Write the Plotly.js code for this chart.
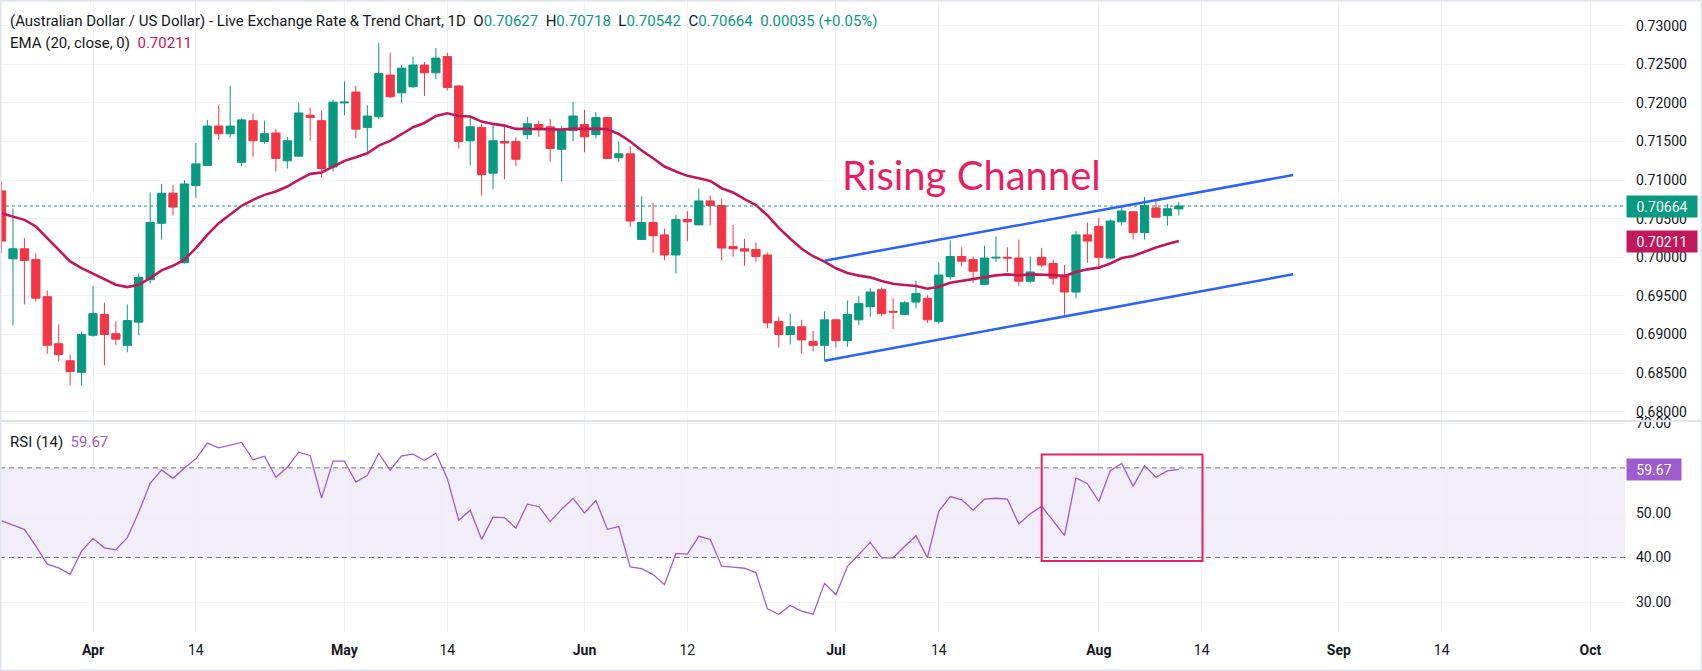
<!DOCTYPE html>
<html><head><meta charset="utf-8">
<script src="https://cdn.plot.ly/plotly-3.0.1.min.js"></script>
<style>html,body{margin:0;padding:0;background:#fff;}#chart{width:1702px;height:671px;}</style>
</head><body><div id="chart"></div>
<script>
// ---------- data ----------
const dates = [
"2026-03-20","2026-03-23","2026-03-24","2026-03-25","2026-03-26","2026-03-27","2026-03-30","2026-03-31",
"2026-04-01","2026-04-02","2026-04-03","2026-04-06","2026-04-07","2026-04-08","2026-04-09","2026-04-10","2026-04-13","2026-04-14","2026-04-15","2026-04-16","2026-04-17","2026-04-20","2026-04-21","2026-04-22","2026-04-23","2026-04-24","2026-04-27","2026-04-28","2026-04-29","2026-04-30",
"2026-05-01","2026-05-04","2026-05-05","2026-05-06","2026-05-07","2026-05-08","2026-05-11","2026-05-12","2026-05-13","2026-05-14","2026-05-15","2026-05-18","2026-05-19","2026-05-20","2026-05-21","2026-05-22","2026-05-25","2026-05-26","2026-05-27","2026-05-28","2026-05-29",
"2026-06-01","2026-06-02","2026-06-03","2026-06-04","2026-06-05","2026-06-08","2026-06-09","2026-06-10","2026-06-11","2026-06-12","2026-06-15","2026-06-16","2026-06-17","2026-06-18","2026-06-19","2026-06-22","2026-06-23","2026-06-24","2026-06-25","2026-06-26","2026-06-29","2026-06-30",
"2026-07-01","2026-07-02","2026-07-03","2026-07-06","2026-07-07","2026-07-08","2026-07-09","2026-07-10","2026-07-13","2026-07-14","2026-07-15","2026-07-16","2026-07-17","2026-07-20","2026-07-21","2026-07-22","2026-07-23","2026-07-24","2026-07-27","2026-07-28","2026-07-29","2026-07-30","2026-07-31",
"2026-08-03","2026-08-04","2026-08-05","2026-08-06","2026-08-07","2026-08-10","2026-08-11","2026-08-12"];

const opens = [
.7086,.6998,.7011,.6997,.6949,.6888,.6866,.6851,
.6899,.6926,.6901,.6886,.6916,.6971,.7044,.7083,.6993,.7093,.7119,.7170,.7160,.7123,.7177,.7150,.7161,.7125,.7131,.7184,.7177,.7117,
.7200,.7214,.7168,.7182,.7236,.7213,.7221,.7249,.7239,.7260,.7222,.7151,.7168,.7109,.7150,.7150,.7159,.7172,.7169,.7140,.7164,
.7172,.7159,.7181,.7129,.7134,.7023,.7045,.7029,.7003,.7049,.7042,.7073,.7067,.7014,.7011,.7010,.7003,.6917,.6900,.6910,.6891,.6886,
.6919,.6892,.6919,.6936,.6958,.6930,.6926,.6942,.6947,.6917,.6975,.7001,.6997,.6965,.6999,.7000,.6999,.6969,.7000,.6992,.6977,.6955,.7029,
.7040,.6999,.7046,.7059,.7032,.7064,.7054,.70627];
const highs = [
.7098,.7063,.7025,.7005,.6957,.6913,.6874,.6904,
.6963,.6941,.6917,.6939,.6979,.7084,.7095,.7094,.7100,.7148,.7178,.7197,.7222,.7180,.7186,.7177,.7166,.7156,.7200,.7194,.7190,.7204,
.7228,.7222,.7197,.7278,.7265,.7249,.7260,.7253,.7271,.7265,.7223,.7184,.7173,.7174,.7169,.7155,.7182,.7177,.7179,.7170,.7201,
.7191,.7188,.7182,.7150,.7144,.7079,.7071,.7037,.7055,.7060,.7089,.7080,.7076,.7042,.7024,.7019,.7006,.6923,.6927,.6919,.6905,.6930,
.6920,.6944,.6950,.6960,.6961,.6947,.6943,.6970,.6951,.6993,.7022,.7013,.7001,.7015,.7027,.7013,.7023,.7001,.7012,.6997,.6990,.7034,.7045,
.7051,.7049,.7067,.7060,.7078,.7075,.7069,.70718];
const lows = [
.7006,.6912,.6939,.6943,.6875,.6865,.6834,.6834,
.6897,.6860,.6886,.6877,.6899,.6966,.7023,.7054,.6992,.7077,.7119,.7152,.7155,.7118,.7130,.7147,.7111,.7115,.7130,.7151,.7103,.7111,
.7184,.7154,.7136,.7179,.7206,.7200,.7219,.7209,.7231,.7216,.7141,.7119,.7080,.7088,.7101,.7118,.7153,.7156,.7124,.7098,.7150,
.7136,.7154,.7128,.7123,.7039,.7023,.7006,.6996,.6979,.7021,.7042,.7042,.6996,.7001,.6989,.6994,.6908,.6883,.6887,.6875,.6878,.6866,
.6883,.6884,.6912,.6923,.6923,.6907,.6926,.6934,.6915,.6914,.6971,.6988,.6967,.6965,.6994,.6981,.6963,.6967,.6987,.6964,.6924,.6947,.6993,
.6988,.6997,.7041,.7023,.7023,.7052,.7041,.70542];
const closes = [
.7021,.7011,.6996,.6947,.6886,.6874,.6852,.6900,
.6927,.6900,.6894,.6918,.6974,.7045,.7083,.7065,.7095,.7121,.7170,.7160,.7170,.7178,.7151,.7160,.7128,.7151,.7187,.7181,.7115,.7201,
.7201,.7166,.7183,.7238,.7208,.7245,.7249,.7239,.7258,.7220,.7150,.7169,.7107,.7151,.7148,.7127,.7173,.7166,.7141,.7164,.7183,
.7156,.7181,.7128,.7134,.7047,.7045,.7028,.7003,.7049,.7046,.7073,.7067,.7012,.7011,.7008,.7001,.6915,.6900,.6910,.6893,.6886,.6919,
.6892,.6926,.6940,.6955,.6927,.6929,.6941,.6953,.6919,.6977,.7001,.6995,.6982,.6999,.7000,.6999,.6969,.6981,.6990,.6973,.6955,.7029,.7021,
.7000,.7047,.7060,.7032,.7067,.7052,.70629,.70664];
const ema20 = [
.70572,.70528,.70485,.70399,.70248,.70097,.69946,.69860,
.69787,.69709,.69644,.69614,.69644,.69730,.69830,.69890,.69968,.70119,.70291,.70442,.70559,.70667,.70744,.70809,.70852,.70917,.71003,.71081,.71098,.71176,
.71249,.71296,.71348,.71447,.71508,.71594,.71685,.71740,.71831,.71866,.71831,.71823,.71758,.71728,.71706,.71663,.71663,.71667,.71659,.71654,.71667,
.71663,.71667,.71659,.71598,.71500,.71383,.71283,.71176,.71111,.71055,.71025,.70990,.70895,.70840,.70753,.70677,.70545,.70380,.70240,.70110,.70014,.69945,
.69858,.69798,.69763,.69740,.69693,.69658,.69641,.69628,.69593,.69619,.69671,.69693,.69714,.69745,.69766,.69779,.69766,.69779,.69779,.69771,.69758,.69810,.69844,
.69866,.69920,.69990,.70017,.70074,.70126,.70173,.70211];
const rsi14 = [
48.17,47.27,46.29,42.55,38.50,37.68,36.26,41.42,
44.27,42.17,41.72,44.42,50.11,56.55,59.55,57.68,60.00,62.02,65.54,64.49,65.09,65.69,61.80,62.62,57.90,60.15,63.52,62.77,53.26,61.50,
61.50,56.85,58.35,63.22,59.48,62.70,63.07,61.65,63.30,57.60,48.32,50.56,44.05,48.99,48.91,46.52,51.91,51.39,48.02,50.79,53.18,
49.96,52.73,46.29,46.89,37.90,37.53,36.18,33.93,40.90,40.75,44.72,44.05,38.05,37.83,37.60,36.63,28.54,27.34,29.29,28.02,27.34,34.23,
31.69,37.98,40.68,43.37,39.93,39.93,42.47,44.87,39.93,50.30,53.60,52.88,50.60,53.03,53.22,53.03,47.49,49.74,51.46,48.28,44.91,57.75,56.48,
52.51,59.40,60.97,55.88,60.52,57.90,59.33,59.67];

const tickDates  = ["2026-04-01","2026-04-14","2026-05-01","2026-05-14","2026-06-01","2026-06-12","2026-07-01","2026-07-14","2026-08-03","2026-08-14","2026-09-01","2026-09-14","2026-10-01"];
const tickLabels = ["<b>Apr</b>","14","<b>May</b>","14","<b>Jun</b>","12","<b>Jul</b>","14","<b>Aug</b>","14","<b>Sep</b>","14","<b>Oct</b>"];
const priceTicks = [0.68,0.685,0.69,0.695,0.70,0.705,0.71,0.715,0.72,0.725,0.73];
const rsiTicks = [30,40,50,60,70];
const rsiBands = [40,60];

// drawings on the chart
const channelDates = ["2026-06-30","2026-08-26"];
const channelUpper = [0.69956,0.71066];
const channelLower = [0.68661,0.69780];
const rsiBoxDates = ["2026-07-27","2026-08-14"];
const rsiBoxLevels = [39.2,63.0];
const channelLabel = {text:"Rising Channel", date:"2026-07-17", price:0.7106};

// ---------- helpers ----------
function bizIndex(s){
  const DAY=86400000, base=Date.UTC(2026,3,1);
  const p=s.split('-').map(Number), t=Date.UTC(p[0],p[1]-1,p[2]);
  let n=0;
  if(t>=base){ for(let c=base;c<t;c+=DAY){const wd=new Date(c+DAY).getUTCDay(); if(wd!==0&&wd!==6)n++;} }
  else { for(let c=base;c>t;c-=DAY){const wd=new Date(c-DAY).getUTCDay(); if(wd!==0&&wd!==6)n--;} }
  return n;
}
const xs = dates.map(bizIndex);
const N = closes.length;
const GREEN='#089981', RED='#f23645', EMA_C='#c2185b', RSI_C='#a15bd1', BLUE='#2962ff', PINK='#e91e63', TXT='#131722', GRID='#f0f2f6';
const FONT='Roboto, "Liberation Sans", sans-serif';

const PX_W=1625, PX_H=632, SPLIT=421;
const rsiDomTop=(PX_H-SPLIT)/PX_H;

const traces=[
 {type:'candlestick', x:xs, open:opens, high:highs, low:lows, close:closes, xaxis:'x', yaxis:'y',
  increasing:{line:{color:GREEN,width:1},fillcolor:GREEN},
  decreasing:{line:{color:RED,width:1},fillcolor:RED},
  whiskerwidth:0, hoverinfo:'skip', showlegend:false},
 {type:'scatter', mode:'lines', x:xs, y:ema20, xaxis:'x', yaxis:'y', line:{color:EMA_C,width:2.6}, hoverinfo:'skip', showlegend:false},
 {type:'scatter', mode:'lines', x:xs, y:rsi14, xaxis:'x2', yaxis:'y2', line:{color:RSI_C,width:1.3}, hoverinfo:'skip', showlegend:false}
];

const tickIdx = tickDates.map(bizIndex);
const xRange=[-93/11.43, (PX_W-93)/11.43];
const lastC=closes[N-1], prevC=closes[N-2], chg=lastC-prevC;
const f5=v=>v.toFixed(5);
const g=s=>`<span style="color:${GREEN}">${s}</span>`;

const shapes=[
 {type:'rect', xref:'paper', yref:'y2', x0:0, x1:1, y0:rsiBands[0], y1:rsiBands[1], fillcolor:'rgba(126,87,194,0.1)', line:{width:0}, layer:'below'},
 {type:'line', xref:'paper', yref:'y2', x0:0, x1:1, y0:rsiBands[0], y1:rsiBands[0], line:{color:'#787b86',width:1,dash:'5px,4px'}},
 {type:'line', xref:'paper', yref:'y2', x0:0, x1:1, y0:rsiBands[1], y1:rsiBands[1], line:{color:'#787b86',width:1,dash:'5px,4px'}},
 {type:'line', xref:'paper', yref:'y', x0:0, x1:1, y0:lastC, y1:lastC, line:{color:GREEN,width:1,dash:'dot'}},
 {type:'line', xref:'x', yref:'y', x0:bizIndex(channelDates[0]), x1:bizIndex(channelDates[1]), y0:channelUpper[0], y1:channelUpper[1], line:{color:BLUE,width:2.5}},
 {type:'line', xref:'x', yref:'y', x0:bizIndex(channelDates[0]), x1:bizIndex(channelDates[1]), y0:channelLower[0], y1:channelLower[1], line:{color:BLUE,width:2.5}},
 {type:'rect', xref:'x2', yref:'y2', x0:bizIndex(rsiBoxDates[0]), x1:bizIndex(rsiBoxDates[1])+0.07, y0:rsiBoxLevels[0], y1:rsiBoxLevels[1], line:{color:PINK,width:2}},
 {type:'line', xref:'paper', yref:'paper', x0:0, x1:1702/PX_W, y0:rsiDomTop, y1:rsiDomTop, line:{color:'#e0e3eb',width:2}},
 {type:'rect', xref:'paper', yref:'paper', x0:0, x1:1702/PX_W, y0:-(671-PX_H)/PX_H, y1:1, line:{color:'#e0e3eb',width:3}}
];

const annotations=[
 {xref:'paper', yref:'paper', x:8/PX_W, y:1-21/PX_H, xanchor:'left', yanchor:'middle', showarrow:false,
  font:{family:FONT,size:15,color:TXT},
  text:`(Australian Dollar / US Dollar) - Live Exchange Rate &amp; Trend Chart, 1D&nbsp;&nbsp;O${g(f5(opens[N-1]))}&nbsp;&nbsp;H${g(f5(highs[N-1]))}&nbsp;&nbsp;L${g(f5(lows[N-1]))}&nbsp;&nbsp;C${g(f5(lastC))}&nbsp;&nbsp;${g(chg.toFixed(5)+' (+'+(chg/prevC*100).toFixed(2)+'%)')}`},
 {xref:'paper', yref:'paper', x:8/PX_W, y:1-43/PX_H, xanchor:'left', yanchor:'middle', showarrow:false,
  font:{family:FONT,size:15,color:TXT},
  text:`EMA (20, close, 0)&nbsp;&nbsp;<span style="color:${EMA_C}">${f5(ema20[N-1])}</span>`},
 {xref:'paper', yref:'paper', x:8/PX_W, y:(PX_H-442)/PX_H, xanchor:'left', yanchor:'middle', showarrow:false,
  font:{family:FONT,size:15,color:TXT},
  text:`RSI (14)&nbsp;&nbsp;<span style="color:${RSI_C}">${rsi14[N-1].toFixed(2)}</span>`},
 {xref:'x', yref:'y', x:bizIndex(channelLabel.date)-0.1, y:channelLabel.price, xanchor:'center', yanchor:'middle', showarrow:false,
  font:{family:'Lato, "Open Sans", sans-serif',size:40,color:PINK}, text:channelLabel.text},
 {xref:'paper', yref:'y', x:1, y:lastC, xanchor:'left', yanchor:'middle', xshift:1, showarrow:false,
  bgcolor:GREEN, borderpad:0, width:70, height:21, font:{family:FONT,size:14,color:'#ffffff'}, text:f5(lastC)},
 {xref:'paper', yref:'y', x:1, y:ema20[N-1], xanchor:'left', yanchor:'middle', xshift:1, showarrow:false,
  bgcolor:EMA_C, borderpad:0, width:70, height:21, font:{family:FONT,size:14,color:'#ffffff'}, text:f5(ema20[N-1])},
 {xref:'paper', yref:'y2', x:1, y:rsi14[N-1], xanchor:'left', yanchor:'middle', xshift:1, showarrow:false,
  bgcolor:RSI_C, borderpad:0, width:54, height:21, font:{family:FONT,size:14,color:'#ffffff'}, text:rsi14[N-1].toFixed(2)}
];

const layout={
 width:1702, height:671, margin:{l:0,r:1702-PX_W,t:0,b:671-PX_H},
 paper_bgcolor:'#ffffff', plot_bgcolor:'#ffffff', showlegend:false,
 font:{family:FONT,size:14,color:TXT},
 boxgap:0.15, boxgroupgap:0.15,
 xaxis:{domain:[0,1], anchor:'y', range:xRange, tickvals:tickIdx, ticktext:tickLabels, showticklabels:false,
   showgrid:true, gridcolor:GRID, gridwidth:1, zeroline:false, showline:false, ticks:'', rangeslider:{visible:false}, fixedrange:true},
 xaxis2:{domain:[0,1], anchor:'y2', matches:'x', range:xRange, tickvals:tickIdx, ticktext:tickLabels, showticklabels:true,
   tickfont:{family:FONT,size:14,color:TXT}, ticklabelstandoff:8,
   showgrid:true, gridcolor:GRID, gridwidth:1, zeroline:false, showline:false, ticks:''},
 yaxis:{domain:[rsiDomTop,1], anchor:'x', side:'right', range:[0.73-(SPLIT-25.7)/7720, 0.73+25.7/7720],
   tickvals:priceTicks, ticktext:priceTicks.map(f5), tickfont:{family:FONT,size:14,color:TXT}, ticklabelstandoff:10,
   showgrid:true, gridcolor:GRID, zeroline:false, showline:false, ticks:''},
 yaxis2:{domain:[0,rsiDomTop], anchor:'x2', side:'right', range:[50-(PX_H-512.7)/4.48, 50+(512.7-SPLIT)/4.48],
   tickvals:rsiTicks, ticktext:rsiTicks.map(v=>v.toFixed(2)), tickfont:{family:FONT,size:14,color:TXT}, ticklabelstandoff:10,
   showgrid:true, gridcolor:GRID, zeroline:false, showline:false, ticks:''},
 shapes:shapes, annotations:annotations
};

Plotly.newPlot('chart', traces, layout, {staticPlot:true, displayModeBar:false});
</script></body></html>
